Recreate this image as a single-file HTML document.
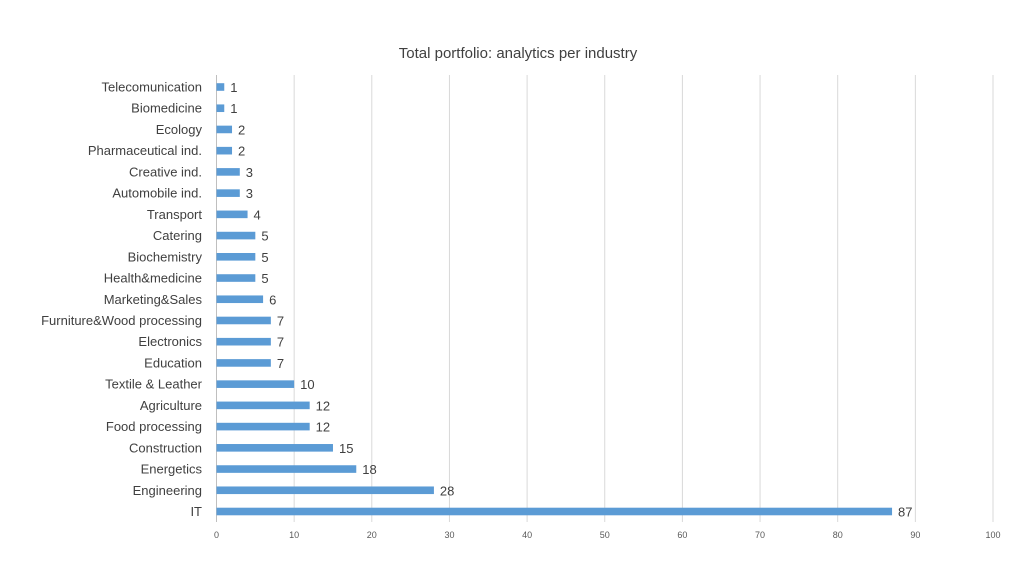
<!DOCTYPE html>
<html><head><meta charset="utf-8"><style>
body{margin:0;background:#fff;font-family:"Liberation Sans",sans-serif}
svg{display:block}
</style></head><body>
<svg id="chart" width="1024" height="576">
<text x="518" y="58" text-anchor="middle" font-size="15" fill="#404040">Total portfolio: analytics per industry</text>
<g id="grid"></g><g id="bars"></g><g id="labels"></g>
</svg>
<script>
const categories=["Telecomunication","Biomedicine","Ecology","Pharmaceutical ind.","Creative ind.","Automobile ind.","Transport","Catering","Biochemistry","Health&medicine","Marketing&Sales","Furniture&Wood processing","Electronics","Education","Textile & Leather","Agriculture","Food processing","Construction","Energetics","Engineering","IT"];
const values=[1,1,2,2,3,3,4,5,5,5,6,7,7,7,10,12,12,15,18,28,87];
const ticks=[0,10,20,30,40,50,60,70,80,90,100];
const NS="http://www.w3.org/2000/svg";
const x0=216.5,x1=993,yTop=87,yBot=511.5;
function xs(v){return x0+(x1-x0)*v/100;}
function ys(i){return yTop+(yBot-yTop)*i/(categories.length-1);}
function mk(t,a,p){const e=document.createElementNS(NS,t);for(const k in a)e.setAttribute(k,a[k]);p.appendChild(e);return e;}
const g=document.getElementById('grid'),b=document.getElementById('bars'),l=document.getElementById('labels');
ticks.forEach(t=>{
const ln=mk('line',{x1:xs(t),x2:xs(t),y1:75,y2:522,stroke:t===0?'#bfbfbf':'#d9d9d9','stroke-width':1},g);


const tx=mk('text',{x:xs(t),y:538,'text-anchor':'middle','font-size':9,fill:'#595959'},g);
tx.textContent=t;


});
categories.forEach((c,i)=>{
const y=ys(i);
const r=mk('rect',{x:x0,y:y-3.8,width:xs(values[i])-x0,height:7.6,fill:'#5b9bd5'},b);


const cl=mk('text',{x:202,y:y+4.5,'text-anchor':'end','font-size':13,fill:'#404040'},l);
cl.textContent=c;


const vl=mk('text',{x:xs(values[i])+6,y:y+5,'font-size':13,fill:'#404040'},l);
vl.textContent=values[i];


});
</script>
</body></html>
